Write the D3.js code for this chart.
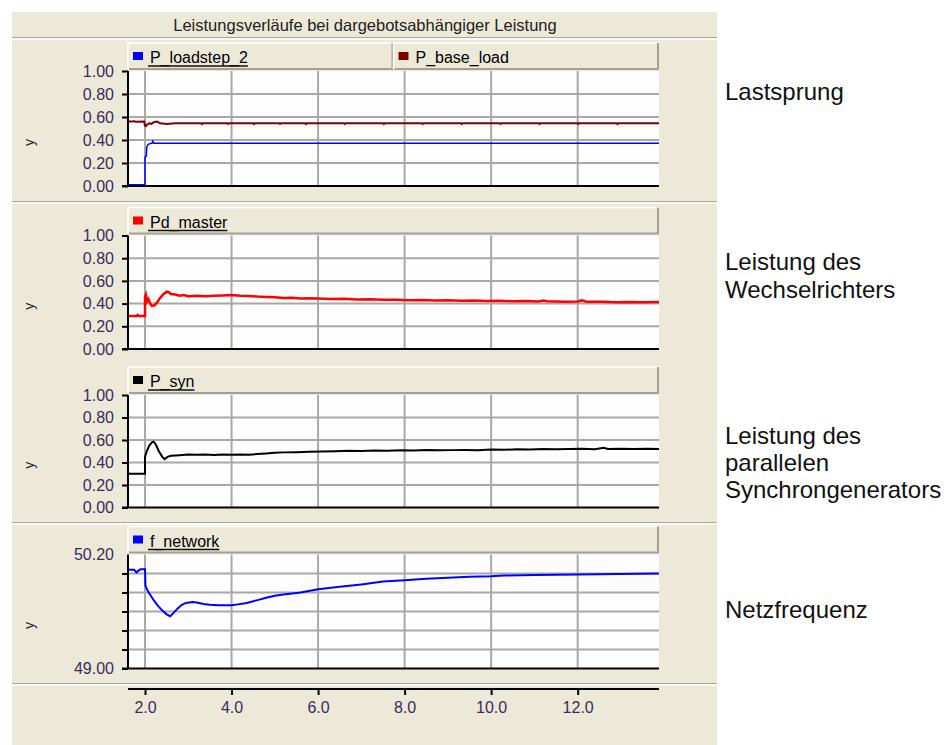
<!DOCTYPE html>
<html>
<head>
<meta charset="utf-8">
<script src="https://cdn.jsdelivr.net/npm/d3@7"></script>
<style>
  body { margin: 0; background: #fff; }
  svg { display: block; font-family: "Liberation Sans", Arial, sans-serif; }
</style>
</head>
<body>
<svg id="chart" width="946" height="745"></svg>
<script>
// ---- data ----
var title = "Leistungsverläufe bei dargebotsabhängiger Leistung";
var sideLabels = [["Lastsprung"], ["Leistung des", "Wechselrichters"], ["Leistung des", "parallelen", "Synchrongenerators"], ["Netzfrequenz"]];

var xTicks = [2, 4, 6, 8, 10, 12];
var xDomain = [1.607, 13.88];
var powerTicks = [0, 0.2, 0.4, 0.6, 0.8, 1.0];
var freqTicks = [49.0, 49.2, 49.4, 49.6, 49.8, 50.0, 50.2];
var freqLabelled = [49.0, 50.2];

var seriesNames = ["P_loadstep_2", "P_base_load", "Pd_master", "P_syn", "f_network"];

var P_loadstep_2 = [[1.61,0.01],[2.0,0.01],[2.0,0.25],[2.03,0.26],[2.04,0.34],[2.07,0.36],[2.12,0.37],[2.16,0.372],[2.18,0.39],[2.2,0.372],[13.88,0.372]];

var P_base_load = [[1.61,0.56],[1.72,0.56],[1.75,0.565],[1.78,0.558],[1.98,0.56],[2.0,0.525],[2.02,0.52],[2.05,0.535],[2.1,0.545],[2.15,0.54],
  [2.2,0.555],[2.28,0.56],[2.35,0.545],[2.5,0.54],[2.7,0.545],[3.0,0.545],[3.3,0.545],[3.32,0.538],[3.34,0.545],[3.9,0.545],[3.92,0.539],
  [3.94,0.545],[4.5,0.545],[4.52,0.538],[4.54,0.545],[5.1,0.545],[5.12,0.539],[5.14,0.545],[5.7,0.545],[5.72,0.538],[5.74,0.545],
  [6.6,0.545],[6.62,0.539],[6.64,0.545],[7.5,0.545],[7.52,0.538],[7.54,0.545],[8.4,0.545],[8.42,0.539],[8.44,0.545],[9.3,0.545],
  [9.32,0.538],[9.34,0.545],[10.2,0.545],[10.22,0.539],[10.24,0.545],[11.1,0.545],[11.12,0.538],[11.14,0.545],[12.0,0.545],
  [12.02,0.539],[12.04,0.545],[12.9,0.545],[12.92,0.538],[12.94,0.545],[13.88,0.545]];

var Pd_master = [[1.61,0.29],[1.8,0.29],[1.83,0.30],[1.86,0.29],[2.0,0.29],[2.0,0.46],[2.02,0.48],[2.05,0.42],[2.08,0.44],[2.12,0.40],
  [2.16,0.38],[2.22,0.385],[2.28,0.41],[2.35,0.45],[2.42,0.48],[2.5,0.505],[2.55,0.50],[2.6,0.485],[2.7,0.48],[2.8,0.47],[2.9,0.475],
  [3.0,0.465],[3.2,0.47],[3.4,0.465],[3.6,0.47],[3.8,0.472],[4.0,0.475],[4.2,0.47],[4.4,0.468],[4.6,0.462],[4.8,0.458],[5.0,0.455],
  [5.2,0.45],[5.4,0.452],[5.6,0.446],[5.8,0.448],[6.0,0.444],[6.3,0.44],[6.6,0.442],[6.9,0.436],[7.2,0.438],[7.5,0.433],[7.8,0.435],
  [8.1,0.43],[8.4,0.432],[8.7,0.428],[9.0,0.43],[9.3,0.426],[9.6,0.428],[9.9,0.422],[10.2,0.425],[10.5,0.42],[10.8,0.422],[11.1,0.418],
  [11.2,0.428],[11.3,0.42],[11.7,0.417],[12.0,0.418],[12.1,0.428],[12.2,0.416],[12.6,0.416],[12.9,0.413],[13.2,0.415],[13.5,0.412],[13.88,0.414]];

var P_syn = [[1.61,0.30],[2.0,0.30],[2.0,0.45],[2.04,0.50],[2.1,0.55],[2.16,0.58],[2.2,0.585],[2.25,0.56],[2.32,0.50],[2.4,0.45],
  [2.45,0.43],[2.52,0.45],[2.6,0.46],[2.8,0.465],[3.0,0.47],[3.2,0.468],[3.4,0.47],[3.6,0.466],[3.8,0.47],[4.0,0.468],[4.2,0.472],
  [4.4,0.47],[4.6,0.475],[4.8,0.48],[5.0,0.486],[5.2,0.49],[5.5,0.492],[5.8,0.495],[6.1,0.497],[6.4,0.50],[6.7,0.505],[7.0,0.503],
  [7.3,0.506],[7.6,0.504],[7.9,0.508],[8.2,0.507],[8.5,0.51],[8.8,0.508],[9.1,0.51],[9.4,0.512],[9.7,0.51],[10.0,0.515],[10.3,0.513],
  [10.6,0.517],[10.9,0.515],[11.2,0.52],[11.5,0.517],[11.8,0.52],[12.1,0.522],[12.4,0.518],[12.6,0.53],[12.7,0.52],[13.0,0.522],
  [13.3,0.52],[13.6,0.522],[13.88,0.52]];

var f_network = [[1.61,50.04],[1.75,50.04],[1.8,50.01],[1.85,50.03],[1.9,50.045],[2.0,50.045],[2.01,49.87],[2.05,49.83],[2.1,49.79],
  [2.2,49.72],[2.3,49.66],[2.4,49.61],[2.5,49.57],[2.58,49.55],[2.65,49.58],[2.75,49.63],[2.85,49.67],[2.95,49.69],[3.1,49.70],
  [3.2,49.695],[3.35,49.68],[3.5,49.67],[3.7,49.665],[4.0,49.665],[4.15,49.675],[4.35,49.69],[4.6,49.72],[4.8,49.745],[5.0,49.765],
  [5.2,49.78],[5.6,49.80],[6.0,49.835],[6.5,49.86],[7.0,49.885],[7.5,49.915],[8.0,49.93],[8.5,49.945],[9.0,49.955],[9.5,49.965],
  [10.0,49.97],[10.3,49.978],[11.0,49.985],[12.0,49.99],[13.88,50.0]];

// ---- layout ----
var bg = "#ece9d8";
var plotLeft = 128, plotRight = 659;
var tickColor = "#3a2c5c";

var svg = d3.select("#chart");

svg.append("rect")
    .attr("x", 12).attr("y", 12)
    .attr("width", 705).attr("height", 733)
    .attr("fill", bg);

svg.append("text")
    .attr("x", 365).attr("y", 31)
    .attr("text-anchor", "middle")
    .style("font-size", "16.5px")
    .attr("fill", "#222")
    .text(title);

function separator(y) {
  svg.append("line").attr("x1", 12).attr("x2", 717).attr("y1", y).attr("y2", y)
      .attr("stroke", "#a9a799").attr("stroke-width", 1);
  svg.append("line").attr("x1", 12).attr("x2", 717).attr("y1", y + 1.5).attr("y2", y + 1.5)
      .attr("stroke", "#fff").attr("stroke-width", 1.5);
}
[37.5, 201.5, 522.5, 683.5].forEach(separator);

var x = d3.scaleLinear().domain(xDomain).range([plotLeft, plotRight]);

var panels = [
  { top: 71, bottom: 186, domain: [0, 1], ticks: powerTicks, labelled: powerTicks,
    series: [{ name: seriesNames[0], data: P_loadstep_2, color: "#0000ff", w: 1.5 },
             { name: seriesNames[1], data: P_base_load, color: "#800000", w: 2 }] },
  { top: 235.5, bottom: 349, domain: [0, 1], ticks: powerTicks, labelled: powerTicks,
    series: [{ name: seriesNames[2], data: Pd_master, color: "#ff0000", w: 2.5 }] },
  { top: 395, bottom: 507.5, domain: [0, 1], ticks: powerTicks, labelled: powerTicks,
    series: [{ name: seriesNames[3], data: P_syn, color: "#000000", w: 2 }] },
  { top: 554.5, bottom: 668.5, domain: [49.0, 50.2], ticks: freqTicks, labelled: freqLabelled,
    series: [{ name: seriesNames[4], data: f_network, color: "#0000ff", w: 2 }] }
];

var labelY = [[100], [270, 298], [444, 471, 498], [618]];

panels.forEach(function(p, i) {
  var g = svg.append("g");
  var y = d3.scaleLinear().domain(p.domain).range([p.bottom, p.top]);

  // plot background
  g.append("rect")
      .attr("x", plotLeft).attr("y", p.top)
      .attr("width", plotRight - plotLeft).attr("height", p.bottom - p.top)
      .attr("fill", "#fdfdfd");

  // grid
  g.selectAll(".vgrid").data(xTicks).enter().append("line")
      .attr("x1", d => x(d)).attr("x2", d => x(d))
      .attr("y1", p.top).attr("y2", p.bottom)
      .attr("stroke", "#a8a8a8").attr("stroke-width", 2);
  g.selectAll(".hgrid").data(p.ticks.slice(1, -1)).enter().append("line")
      .attr("x1", plotLeft).attr("x2", plotRight)
      .attr("y1", d => y(d)).attr("y2", d => y(d))
      .attr("stroke", "#a8a8a8").attr("stroke-width", 2);

  // clip
  var clipId = "clip" + i;
  svg.append("clipPath").attr("id", clipId).append("rect")
      .attr("x", plotLeft).attr("y", p.top - 2)
      .attr("width", plotRight - plotLeft).attr("height", p.bottom - p.top + 2);

  var line = d3.line().x(d => x(d[0])).y(d => y(d[1]));
  p.series.slice().reverse().forEach(function(s) {
    g.append("path")
        .attr("clip-path", "url(#" + clipId + ")")
        .attr("d", line(s.data))
        .attr("fill", "none")
        .attr("stroke", s.color)
        .attr("stroke-width", s.w)
        .attr("stroke-linejoin", "miter");
  });

  // y axis
  var axis = d3.axisLeft(y)
      .tickValues(i == 3 ? p.ticks.slice(0, -1) : p.ticks)
      .tickSize(6)
      .tickFormat(d => p.labelled.some(v => Math.abs(v - d) < 1e-9) ? d3.format(".2f")(d) : "");
  var ag = g.append("g").attr("transform", "translate(" + plotLeft + ",0)").call(axis);
  ag.select(".domain").attr("stroke", "#000").attr("stroke-width", 2)
      .attr("d", "M0," + p.top + "V" + p.bottom);
  ag.selectAll(".tick line").attr("stroke", "#000").attr("stroke-width", 2);
  ag.selectAll(".tick text").attr("x", -14).attr("fill", tickColor)
      .style("font-size", "16px").style("font-family", "'Liberation Sans', Arial, sans-serif");
  if (i == 3) {
    g.append("text").attr("x", plotLeft - 14).attr("y", y(50.2)).attr("dy", "0.36em")
        .attr("text-anchor", "end").attr("fill", tickColor).style("font-size", "16px")
        .text(d3.format(".2f")(50.2));
  }
  // bottom axis line of the panel
  g.append("line").attr("x1", plotLeft - 6).attr("x2", plotRight)
      .attr("y1", p.bottom).attr("y2", p.bottom)
      .attr("stroke", "#000").attr("stroke-width", 2);

  // "y" label
  g.append("text")
      .attr("transform", "translate(34," + ((p.top + p.bottom) / 2 + 14) + ") rotate(-90)")
      .attr("text-anchor", "middle")
      .style("font-size", "14px")
      .attr("fill", "#222")
      .text("y");

  // legend boxes
  var bw = (plotRight - plotLeft) / p.series.length;
  var by = p.top - 28, bh = 26;
  p.series.forEach(function(s, k) {
    var bx = plotLeft + k * bw;
    var lg = g.append("g");
    lg.append("rect").attr("x", bx).attr("y", by).attr("width", bw).attr("height", bh).attr("fill", bg);
    lg.append("path").attr("d", "M" + bx + "," + (by + bh) + "V" + by + "H" + (bx + bw))
        .attr("fill", "none").attr("stroke", "#fff").attr("stroke-width", 1.5);
    lg.append("path").attr("d", "M" + (bx + 1) + "," + (by + bh) + "H" + (bx + bw - 1) + "V" + by)
        .attr("fill", "none").attr("stroke", "#a3a193").attr("stroke-width", 2);
    lg.append("rect").attr("x", bx + 5).attr("y", by + 9).attr("width", 10).attr("height", 8)
        .attr("fill", s.color);
    var t = lg.append("text").attr("x", bx + 22).attr("y", by + 20)
        .style("font-size", "16px").attr("fill", "#000").text(s.name);
    if (k == 0) {
      var tw = t.node().getComputedTextLength();
      lg.append("line").attr("x1", bx + 20).attr("x2", bx + 22 + tw)
          .attr("y1", by + 23).attr("y2", by + 23)
          .attr("stroke", "#111").attr("stroke-width", 1.5);
    }
  });

  // side labels
  sideLabels[i].forEach(function(txt, j) {
    svg.append("text").attr("x", 725).attr("y", labelY[i][j])
        .style("font-size", "24px").attr("fill", "#111").text(txt);
  });
});

// shared x axis
var xg = svg.append("g").attr("transform", "translate(0,689)")
    .call(d3.axisBottom(x).tickValues(xTicks).tickSize(6).tickFormat(d3.format(".1f")));
xg.select(".domain").attr("stroke", "#000").attr("stroke-width", 2)
    .attr("d", "M" + plotLeft + ",0H" + plotRight);
xg.selectAll(".tick line").attr("stroke", "#000").attr("stroke-width", 2);
xg.selectAll(".tick text").attr("y", 13).attr("fill", tickColor)
    .style("font-size", "16px").style("font-family", "'Liberation Sans', Arial, sans-serif");
</script>
</body>
</html>
